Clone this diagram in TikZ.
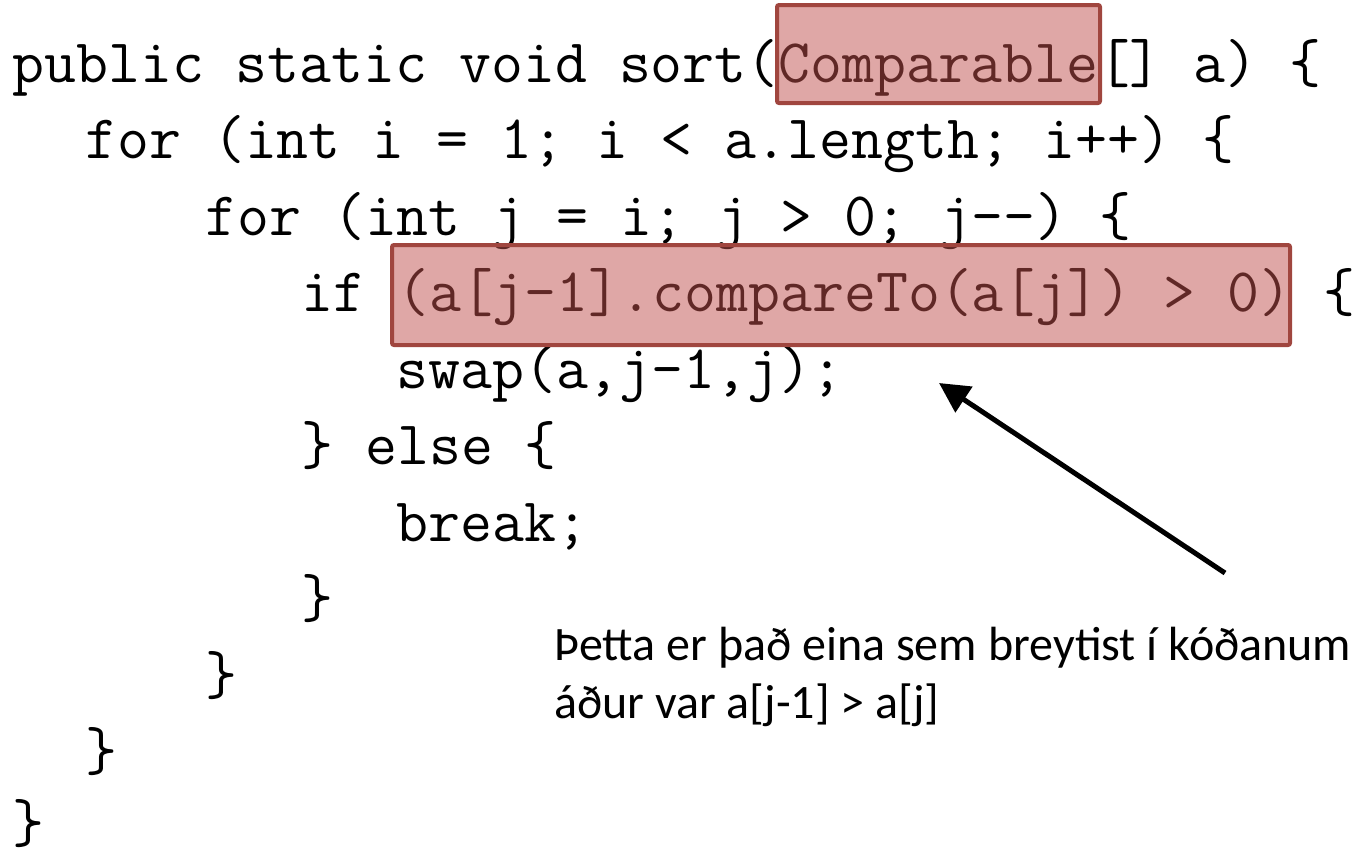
\documentclass[tikz,border=0pt]{standalone}
\usepackage{fontspec}
\usepackage{xcolor}
\usepackage{tikz}
\usetikzlibrary{arrows.meta,positioning,fit}
\newfontfamily\notefont{Carlito}
\definecolor{hlfill}{HTML}{C0504D}
\definecolor{hldraw}{HTML}{A0463F}

\tikzset{
  codeline/.style={anchor=base west, inner sep=0pt, font=\fontsize{31}{36}\selectfont\ttfamily},
  hlbox/.style={draw=hldraw, line width=2pt, fill=hlfill, fill opacity=0.5, rounded corners=1pt, inner sep=0pt},
  notetext/.style={anchor=base west, inner sep=0pt, font=\fontsize{24}{28}\selectfont\notefont},
  pointer/.style={line width=2.5pt, -{Triangle[length=15pt,width=15pt]}}
}

\begin{document}
\begin{tikzpicture}[x=0.5pt, y=-0.5pt]
  \useasboundingbox (0,0) rectangle (1355,857);
  % the code
  \node[codeline] (l1) at (12,82) {public static void sort(Comparable[] a) \{};
  \node[codeline] (l2) at (85,158.5) {for (int i = 1; i < a.length; i++) \{};
  \node[codeline] (l3) at (205,235) {for (int j = i; j > 0; j-{}-) \{};
  \node[codeline] (l4) at (301,311.5) {if (a[j-1].compareTo(a[j]) > 0) \{};
  \node[codeline] (l5) at (396,388) {swap(a,j-1,j);};
  \node[codeline] (l6) at (301,464.5) {\} else \{};
  \node[codeline] (l7) at (396,541) {break;};
  \node[codeline] (l8) at (301,617.5) {\}};
  \node[codeline] (l9) at (205,694) {\}};
  \node[codeline] (l10) at (85,770.5) {\}};
  \node[codeline] (l11) at (12,842) {\}};
  % highlights
  \node[hlbox, fit={(777,5) (1100,103)}] (cmpbox) {};
  \node[hlbox, fit={(392,245) (1290,345)}] (testbox) {};
  % note
  \node[notetext] (note1) at (554,660) {Þetta er það eina sem breytist í kóðanum};
  \node[notetext] (note2) at (554,718) {áður var a[j-1] > a[j]};
  \coordinate (tail) at (1225,573);
  \coordinate (tip) at (939,383);
  \draw[pointer] (tail) -- (tip);
\end{tikzpicture}
\end{document}
